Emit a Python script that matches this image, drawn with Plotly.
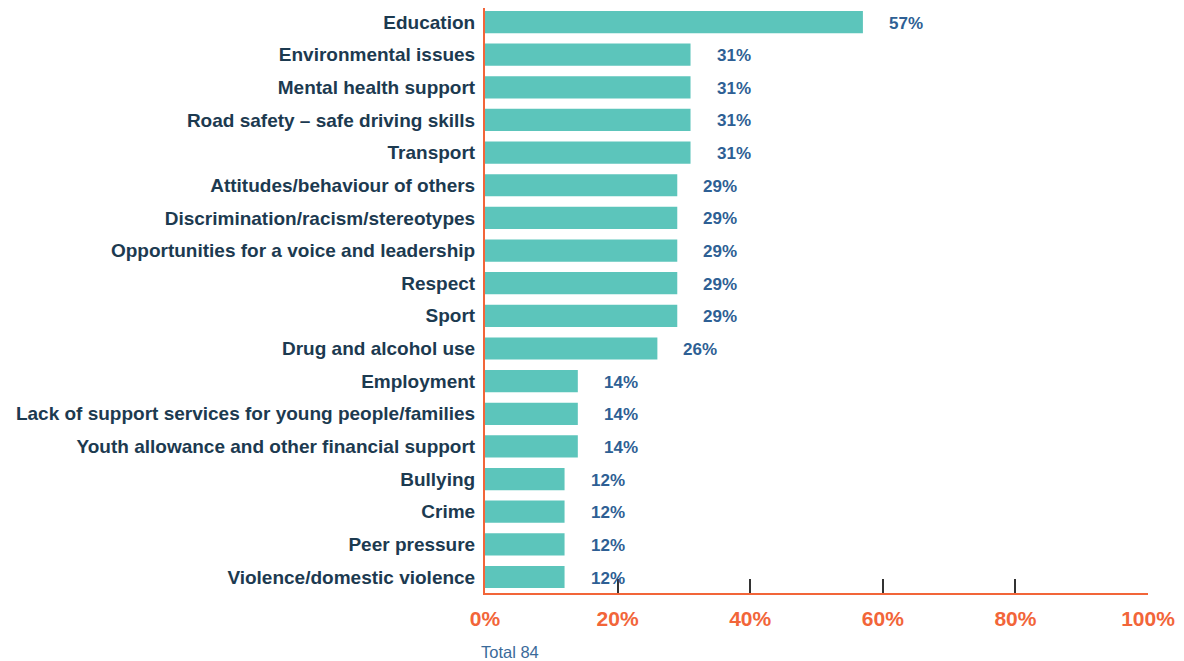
import plotly.graph_objects as go

categories = [
    "Education",
    "Environmental issues",
    "Mental health support",
    "Road safety – safe driving skills",
    "Transport",
    "Attitudes/behaviour of others",
    "Discrimination/racism/stereotypes",
    "Opportunities for a voice and leadership",
    "Respect",
    "Sport",
    "Drug and alcohol use",
    "Employment",
    "Lack of support services for young people/families",
    "Youth allowance and other financial support",
    "Bullying",
    "Crime",
    "Peer pressure",
    "Violence/domestic violence",
]
values = [57, 31, 31, 31, 31, 29, 29, 29, 29, 29, 26, 14, 14, 14, 12, 12, 12, 12]
tick_vals = [0, 20, 40, 60, 80, 100]
tick_text = ["0%", "20%", "40%", "60%", "80%", "100%"]
footnote = "Total 84"

BAR = "#5cc5bb"
ORANGE = "#f26539"
NAVY = "#1c3a50"
BLUE = "#2e5f94"
FONT = "Liberation Sans, Arial, sans-serif"

fig = go.Figure()
fig.add_trace(go.Bar(
    x=values,
    y=categories,
    orientation="h",
    marker=dict(color=BAR, line=dict(width=0)),
    hoverinfo="skip",
))

for c, v in zip(categories, values):
    fig.add_annotation(
        x=v, y=c, xref="x", yref="y",
        text=f"<b>{v}%</b>", showarrow=False,
        xanchor="left", xshift=24, yshift=-1,
        font=dict(family=FONT, size=17, color=BLUE),
    )

fig.add_annotation(
    x=0, y=0, xref="paper", yref="paper",
    text=footnote, showarrow=False,
    xanchor="left", yanchor="top", xshift=-6, yshift=-48,
    font=dict(family=FONT, size=16.5, color="#3a6a9a"),
)

fig.update_layout(
    width=1176, height=653,
    margin=dict(l=477, r=36, t=0, b=68, pad=0),
    plot_bgcolor="white", paper_bgcolor="white",
    showlegend=False,
    bargap=0.32,
    xaxis=dict(
        range=[0, 100],
        tickvals=tick_vals, ticktext=[f"<b>{t}</b>" for t in tick_text],
        showgrid=False, zeroline=False,
        showline=True, linecolor=ORANGE, linewidth=2,
        ticks="inside", ticklen=14, tickwidth=2, tickcolor="#333333",
        tickfont=dict(family=FONT, size=21, color=ORANGE),
        ticklabelstandoff=6,
        fixedrange=True,
    ),
    yaxis=dict(
        categoryorder="array", categoryarray=categories[::-1],
        range=[-0.49, len(categories) - 1 + 0.43],
        tickvals=categories, ticktext=[f"<b>{c}</b>" for c in categories],
        showgrid=False, zeroline=False,
        showline=True, linecolor=ORANGE, linewidth=2,
        ticks="", ticklabelstandoff=4,
        tickfont=dict(family=FONT, size=19, color=NAVY),
        fixedrange=True,
    ),
    font=dict(family=FONT),
)

fig.write_html("out.html")
